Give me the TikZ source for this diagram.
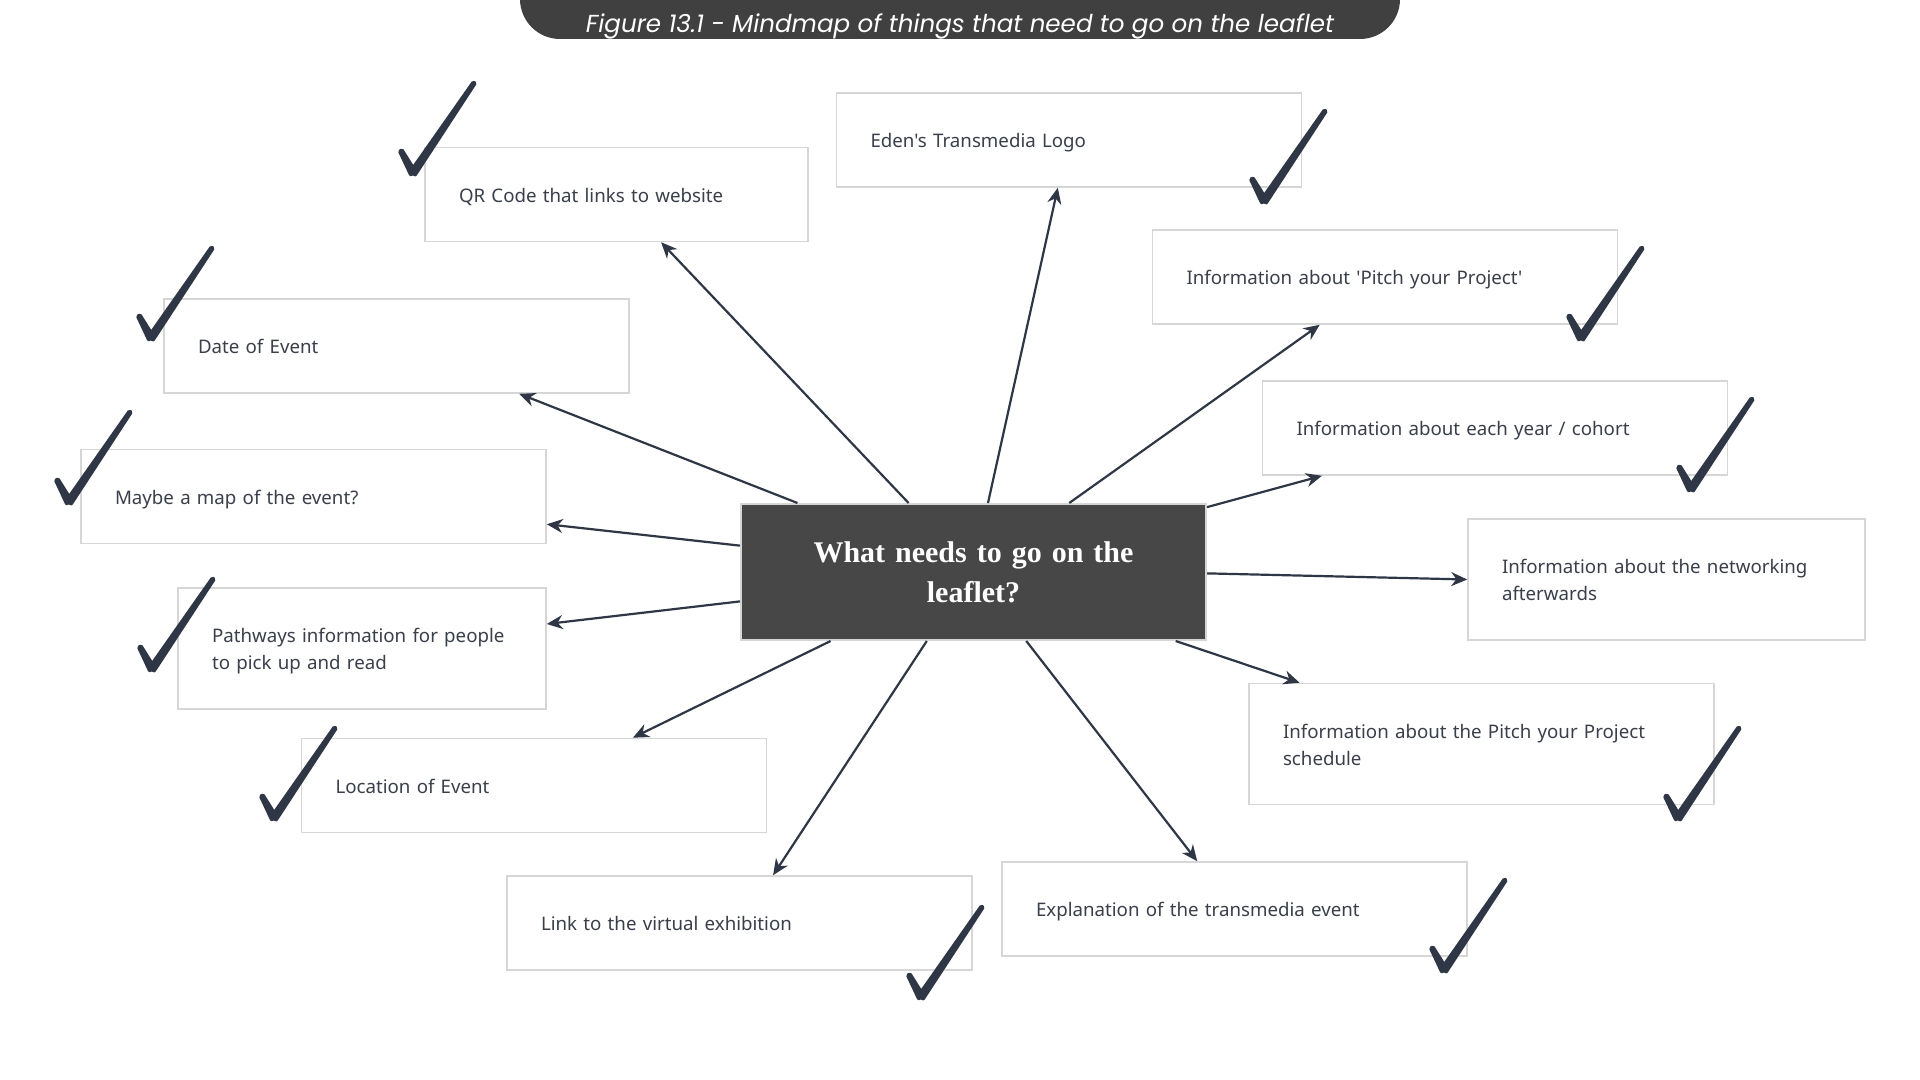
\documentclass[tikz,border=0pt]{standalone}
\usepackage{fontspec}
\setmainfont{Noto Sans}[Ligatures=TeXOff]
\newfontfamily\titlefont{Poppins}
\newfontfamily\centerfont{Liberation Serif}
\usetikzlibrary{arrows.meta,calc}
\definecolor{ink}{HTML}{2F3645}
\definecolor{boxline}{HTML}{D6D6D6}
\definecolor{boxtext}{HTML}{3A3F4A}
\definecolor{titlegray}{HTML}{404040}
\definecolor{centergray}{HTML}{474747}
\newcommand\toppad{\rule{0pt}{12pt}}
\begin{document}
\begin{tikzpicture}[x=0.5pt,y=-0.5pt,
  leaf/.style={draw=boxline, line width=0.8pt, fill=white, inner xsep=17pt, inner ysep=0pt,
    text=boxtext, font=\fontsize{9.35}{13.5}\selectfont, align=left,
    text width=198.5pt, minimum width=232.5pt, minimum height=47pt},
  tall/.style={minimum height=60.5pt},
  hub/.style={draw=boxline, line width=1pt, fill=centergray, text=white, align=center,
    font=\centerfont\bfseries\fontsize{15}{20}\selectfont,
    minimum width=232.5pt, minimum height=68pt, text width=210pt},
  arr/.style={draw=ink, line width=1.1pt, -{Stealth[length=8pt,width=7pt]}},
  tick/.pic={
    \filldraw[ink, line width=2pt, line join=round]
      (2.07,1.40) -- (61.58,-89.61) -- (60.42,-90.39) -- (-2.07,-1.40) -- cycle;
    \filldraw[ink, line width=2pt, line join=round]
      (-11.12,-22.48) -- (2.2,-1.2) -- (-2.2,1.2) -- (-12.88,-21.52) -- cycle;
  }]
\useasboundingbox (0,0) rectangle (1920,1080);
\fill[white] (0,0) rectangle (1920,1080);

% title
\fill[titlegray, rounded corners=20pt] (520,-60) rectangle (1400,39);
\node[text=white, font=\titlefont\itshape\fontsize{12.3}{14}\selectfont] (title) at (960,26.5) {Figure 13.1 - Mindmap of things that need to go on the leaflet};

% nodes
\node[hub] (c) at (973.5,572) {What needs to go on the\\leaflet?};

\node[leaf, minimum width=191.5pt, text width=157.5pt] (q) at (616.5,194.5) {\toppad\strut QR Code that links to website};
\node[leaf] (e) at (1069,140) {\toppad\strut Eden's Transmedia Logo};
\node[leaf] (p) at (1385,277) {\toppad\strut Information about 'Pitch your Project'};
\node[leaf] (y) at (1495,428) {\toppad\strut Information about each year / cohort};
\node[leaf, tall, minimum width=198.5pt, text width=164.5pt] (n) at (1666.5,579.5) {\toppad\strut Information about the networking\\afterwards\strut};
\node[leaf, tall] (s) at (1481.5,744) {\toppad\strut Information about the Pitch your Project\\schedule\strut};
\node[leaf] (x) at (1234.5,909) {\toppad\strut Explanation of the transmedia event};
\node[leaf] (v) at (739.5,923) {\toppad\strut Link to the virtual exhibition};
\node[leaf] (l) at (534,785.5) {\toppad\strut Location of Event};
\node[leaf, tall, minimum width=184pt, text width=150pt] (w) at (362,648.5) {\toppad\strut Pathways information for people\\to pick up and read\strut};
\node[leaf] (m) at (313.5,496.5) {\toppad\strut Maybe a map of the event?};
\node[leaf] (d) at (396.5,346) {\toppad\strut Date of Event};

% connectors
\draw[arr] ($(c.north west)!0.361!(c.north east)$) -- ($(q.south west)!0.616!(q.south east)$);
\draw[arr] ($(c.north west)!0.531!(c.north east)$) -- ($(e.south west)!0.476!(e.south east)$);
\draw[arr] ($(c.north west)!0.705!(c.north east)$) -- ($(p.south west)!0.36!(p.south east)$);
\draw[arr] ($(c.north east)!0.03!(c.south east)$) -- ($(y.south west)!0.129!(y.south east)$);
\draw[arr] ($(c.north east)!0.51!(c.south east)$) -- (n.west);
\draw[arr] ($(c.south west)!0.933!(c.south east)$) -- ($(s.north west)!0.11!(s.north east)$);
\draw[arr] ($(c.south west)!0.613!(c.south east)$) -- ($(x.north west)!0.42!(x.north east)$);
\draw[arr] ($(c.south west)!0.40!(c.south east)$) -- ($(v.north west)!0.572!(v.north east)$);
\draw[arr] ($(c.south west)!0.194!(c.south east)$) -- ($(l.north west)!0.712!(l.north east)$);
\draw[arr] ($(c.north west)!0.713!(c.south west)$) -- ($(w.north east)!0.30!(w.south east)$);
\draw[arr] ($(c.north west)!0.309!(c.south west)$) -- ($(m.north east)!0.79!(m.south east)$);
\draw[arr] ($(c.north west)!0.123!(c.north east)$) -- ($(d.south west)!0.763!(d.south east)$);

% ticks
\pic at (413,173) {tick};
\pic at (1264,201) {tick};
\pic at (1581,338) {tick};
\pic at (1691,489) {tick};
\pic at (1678,818) {tick};
\pic at (1444,970) {tick};
\pic at (921,997) {tick};
\pic at (274,818) {tick};
\pic at (152,669) {tick};
\pic at (69,502) {tick};
\pic at (151,338) {tick};
\end{tikzpicture}
\end{document}
